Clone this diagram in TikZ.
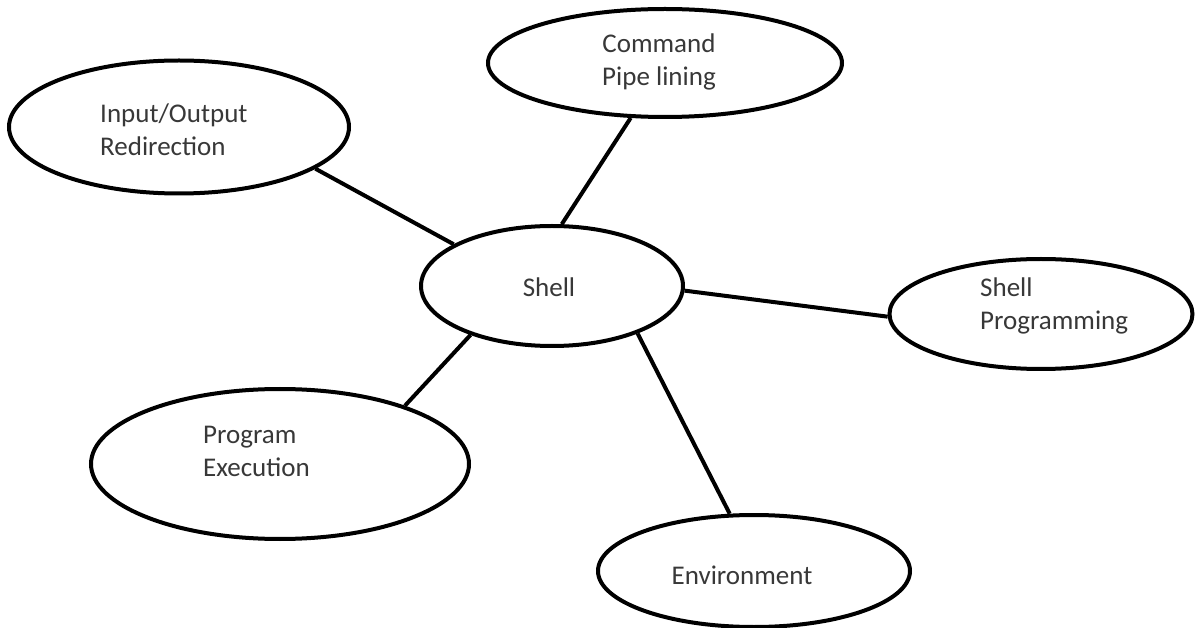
\documentclass[tikz,border=0pt]{standalone}
\usepackage{fontspec}
\setmainfont{Carlito}
\usetikzlibrary{shapes.geometric}
\begin{document}
\begin{tikzpicture}[x=1pt,y=-1pt,
  bubble/.style={draw=black,line width=4pt,ellipse,inner sep=0pt,fill=white},
  caption/.style={inner sep=0pt,text=black!78,font=\fontsize{27}{33}\selectfont},
  link/.style={draw=black,line width=4pt}]
  \useasboundingbox (0,0) rectangle (1195,628);
  % ellipses
  \node[bubble,minimum width=262pt,minimum height=120pt] (shell) at (552,286) {};
  \node[bubble,minimum width=354pt,minimum height=108pt] (cmd) at (665,63) {};
  \node[bubble,minimum width=340pt,minimum height=133pt] (io) at (179,127) {};
  \node[bubble,minimum width=303pt,minimum height=110pt] (sp) at (1041,314) {};
  \node[bubble,minimum width=378pt,minimum height=150pt] (pe) at (280,464) {};
  \node[bubble,minimum width=312pt,minimum height=112pt] (env) at (754,571) {};
  % connectors
  \draw[link] (io.-17) -- (shell.157);
  \draw[link] (cmd.-122) -- (shell.81);
  \draw[link] (shell.-2) -- (sp.181);
  \draw[link] (shell.211) -- (pe.25);
  \draw[link] (shell.-29) -- (env.113);
  % labels
  \node[caption] (shell-t) at (549,287) {Shell};
  \node[caption,align=center] (cmd-t) at (659,62) {Command\\Pipe lining};
  \node[caption,align=left,anchor=west] (io-t) at (100,130) {Input/Output\\Redirection};
  \node[caption,align=left,anchor=west] (sp-t) at (980,306) {Shell\\Programming};
  \node[caption,align=left,anchor=west] (pe-t) at (203,451) {Program\\Execution};
  \node[caption] (env-t) at (742,575) {Environment};
\end{tikzpicture}
\end{document}
